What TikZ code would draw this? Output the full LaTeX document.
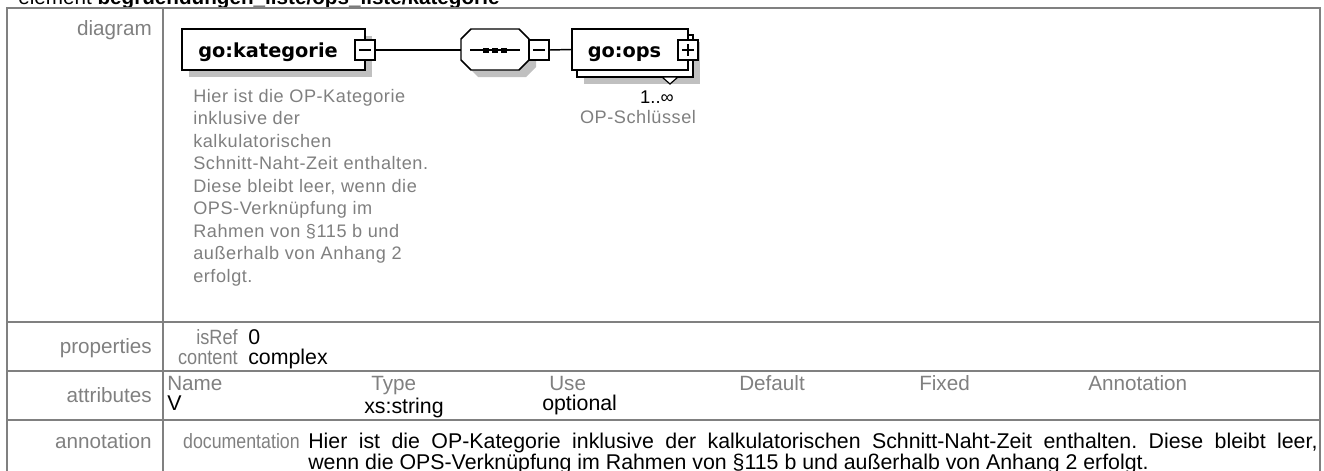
\documentclass[tikz,border=0pt]{standalone}
\usepackage{graphicx}
\usepackage{fontspec}
\setmainfont{Liberation Sans}
\newfontfamily\boxfont{DejaVu Sans}
\newfontfamily\annfont[LetterSpace=3]{Liberation Sans}
\usetikzlibrary{calc}
\definecolor{lblgray}{HTML}{808080}
\definecolor{linegray}{HTML}{808080}
\definecolor{shadowgray}{HTML}{C0C0C0}
\definecolor{anngray}{HTML}{7F7F7F}
\frenchspacing
\begin{document}
\begin{tikzpicture}[x=0.75pt,y=-0.75pt,
  tline/.style={draw=linegray,line width=1.5pt},
  lbl/.style={text=lblgray,font=\fontsize{15.5}{19}\selectfont,inner sep=0pt},
  val/.style={text=black,font=\fontsize{16}{19}\selectfont,inner sep=0pt},
  elbox/.style={draw=black,line width=1.1pt,fill=white,rectangle,inner sep=0pt},
  boxlbl/.style={font=\boxfont\bfseries\fontsize{14.5}{17}\selectfont,inner sep=0pt},
  anntxt/.style={text=anngray,font=\annfont\fontsize{13.6}{16}\selectfont,inner sep=0pt},
  conn/.style={draw=black,line width=1.1pt},
  signline/.style={draw=black,line width=1.1pt}
]
\useasboundingbox (0,0) rectangle (1324,471);
\clip (0,0) rectangle (1324,471);

% title (cut at the top, as in the reference)
\node[val,anchor=base west,font=\fontsize{15.5}{19}\selectfont] (title) at (18,4) {element \textbf{begruendungen\_liste/ops\_liste/kategorie}};

% table frame
\draw[tline] (7,520) -- (7,8) -- (1320,8) -- (1320,520);
\draw[tline] (163,8) -- (163,520);
\draw[tline] (7,322) -- (1320,322);
\draw[tline] (7,371) -- (1320,371);
\draw[tline] (7,420) -- (1320,420);

% row labels
\node[lbl,anchor=base east] (ldiag) at (152,36) {diagram};
\node[lbl,anchor=base east] (lprop) at (152,353) {properties};
\node[lbl,anchor=base east] (lattr) at (152,402) {attributes};
\node[lbl,anchor=base east] (lann) at (152,448) {annotation};

% properties
\node[lbl,anchor=base east] (kisref) at (238,344) {\scalebox{0.88}[1]{isRef}};
\node[val,anchor=base west] (visref) at (248,344) {0};
\node[lbl,anchor=base east] (kcont) at (238,364) {\scalebox{0.88}[1]{content}};
\node[val,anchor=base west] (vcont) at (248,364) {complex};

% attributes
\node[lbl,anchor=base west] (hname) at (167,390) {Name};
\node[lbl,anchor=base west] (htype) at (371,390) {Type};
\node[lbl,anchor=base west] (huse) at (549,390) {Use};
\node[lbl,anchor=base west] (hdef) at (739,390) {Default};
\node[lbl,anchor=base west] (hfix) at (919,390) {Fixed};
\node[lbl,anchor=base west] (hann) at (1088,390) {Annotation};
\node[val,anchor=base west] (aname) at (167,410) {V};
\node[val,anchor=base west] (atype) at (364,413) {xs:string};
\node[val,anchor=base west] (ause) at (542,410) {optional};

% annotation
\node[lbl,anchor=base east] (kdoc) at (300,448) {\scalebox{0.86}[1]{documentation}};
\node[val,anchor=base west] (doc1) at (308,448) {\makebox[757pt][s]{Hier ist die OP-Kategorie inklusive der kalkulatorischen Schnitt-Naht-Zeit enthalten. Diese bleibt leer,}};
\node[val,anchor=base west] (doc2) at (308,469) {wenn die OPS-Verknüpfung im Rahmen von §115 b und außerhalb von Anhang 2 erfolgt.};

% ---------- diagram ----------
% go:kategorie
\fill[shadowgray] (189,36) rectangle (372,77);
\node[elbox,minimum width=183*0.75pt,minimum height=41*0.75pt] (kat) at (273.5,49.5) {};
\node[boxlbl,anchor=base] (katl) at (268,57) {go:kategorie};
\node[elbox,minimum size=20*0.75pt] (m1) at (365,50) {};
\draw[signline] ($(m1.center)+(-6,0)$) -- ($(m1.center)+(6,0)$);

% sequence compositor (octagon)
\fill[shadowgray] (478,36) -- (526,36) -- (536,46) -- (536,67) -- (526,77) -- (478,77) -- (468,67) -- (468,46) -- cycle;
\draw[draw=black,line width=1.1pt,fill=white] (471,29) -- (519,29) -- (529,39) -- (529,60) -- (519,70) -- (471,70) -- (461,60) -- (461,39) -- cycle;
\coordinate (seqw) at (461,50);
\draw[signline] (470,50) -- (520,50);
\foreach \cx in {486,495,504}{\fill (\cx-3,47.5) rectangle (\cx+3,52.5);}
\node[elbox,minimum size=20*0.75pt] (m2) at (539,50) {};
\draw[signline] ($(m2.center)+(-6,0)$) -- ($(m2.center)+(6,0)$);

% go:ops
\fill[shadowgray] (584,42) rectangle (700,84);
\node[elbox,minimum width=116*0.75pt,minimum height=42*0.75pt] (opsb) at (635,56) {};
\node[elbox,minimum width=116*0.75pt,minimum height=41*0.75pt] (ops) at (630,49.5) {};
\node[boxlbl,anchor=base] (opsl) at (624.5,57) {go:ops};
\node[elbox,minimum size=20*0.75pt] (p1) at (688,50) {};
\draw[signline] ($(p1.center)+(-6,0)$) -- ($(p1.center)+(6,0)$);
\draw[signline] ($(p1.center)+(0,-6)$) -- ($(p1.center)+(0,6)$);
\draw[draw=black,line width=0.9pt,fill=white] (662,77) -- (678,77) -- (670,84) -- cycle;
\node[val,anchor=base,font=\fontsize{13.8}{16}\selectfont] (mult) at (657,103) {1..∞};
\node[anntxt,anchor=base] (opsdoc) at (638,123) {OP-Schlüssel};

% connectors
\draw[conn] (m1.east) -- (seqw);
\draw[conn] (m2.east) -- (ops.west);

% annotation of go:kategorie
\foreach [count=\i] \t in {{Hier ist die OP-Kategorie},{inklusive der},{kalkulatorischen},{Schnitt-Naht-Zeit enthalten.},{Diese bleibt leer, wenn die},{OPS-Verknüpfung im},{Rahmen von §115 b und},{außerhalb von Anhang 2},{erfolgt.}}
  {\node[anntxt,anchor=base west] (ann\i) at (193,{102+22.5*(\i-1)}) {\t};}
\end{tikzpicture}
\end{document}
